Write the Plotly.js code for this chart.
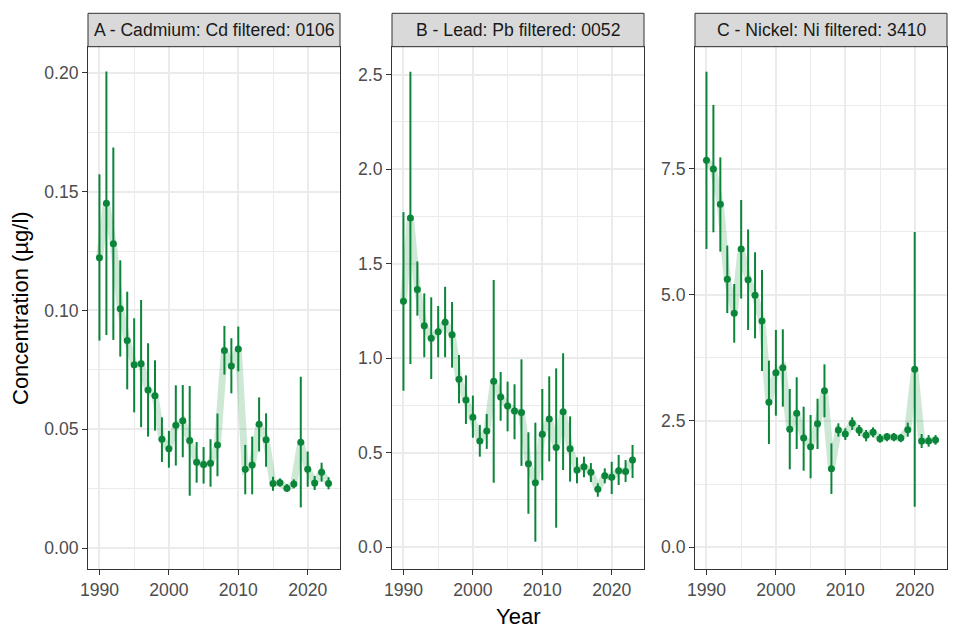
<!DOCTYPE html>
<html>
<head>
<meta charset="utf-8">
<script src="https://cdn.plot.ly/plotly-3.0.1.min.js"></script>
<style>html,body{margin:0;padding:0;background:#fff;}#chart{width:960px;height:640px;}</style>
</head>
<body>
<div id="chart"></div>
<script>
const years = [1990,1991,1992,1993,1994,1995,1996,1997,1998,1999,2000,2001,2002,2003,2004,2005,2006,2007,2008,2009,2010,2011,2012,2013,2014,2015,2016,2017,2018,2019,2020,2021,2022,2023];

const panelTitles = ["A - Cadmium: Cd filtered: 0106", "B - Lead: Pb filtered: 0052", "C - Nickel: Ni filtered: 3410"];

const cdMean  = [0.1222,0.1451,0.1281,0.1007,0.0873,0.0771,0.0776,0.0665,0.0641,0.0458,0.0418,0.0517,0.0536,0.0453,0.0361,0.0351,0.0357,0.0434,0.0831,0.0766,0.0838,0.0331,0.0349,0.0521,0.0456,0.0272,0.0275,0.0251,0.0269,0.0445,0.0331,0.0274,0.0319,0.0271];
const cdUpper = [0.1573,0.2006,0.1686,0.1211,0.1079,0.0967,0.1044,0.0862,0.0790,0.0550,0.0493,0.0685,0.0686,0.0682,0.0446,0.0425,0.0458,0.0566,0.0935,0.0883,0.0932,0.0434,0.0469,0.0634,0.0567,0.0300,0.0293,0.0269,0.0289,0.0721,0.0406,0.0303,0.0359,0.0298];
const cdLower = [0.0873,0.0897,0.0876,0.0806,0.0668,0.0571,0.0509,0.0469,0.0494,0.0362,0.0338,0.0347,0.0382,0.0220,0.0275,0.0271,0.0258,0.0302,0.0730,0.0651,0.0744,0.0226,0.0226,0.0406,0.0342,0.0241,0.0258,0.0236,0.0251,0.0171,0.0258,0.0244,0.0279,0.0247];

const pbMean  = [1.300,1.741,1.363,1.171,1.104,1.139,1.189,1.123,0.887,0.778,0.686,0.561,0.614,0.877,0.794,0.746,0.720,0.711,0.441,0.340,0.596,0.677,0.526,0.716,0.520,0.407,0.425,0.395,0.305,0.377,0.369,0.404,0.400,0.460];
const pbUpper = [1.772,2.515,1.511,1.342,1.321,1.275,1.377,1.296,1.016,0.908,0.801,0.646,0.704,1.413,0.926,0.875,0.861,0.993,0.607,0.658,0.836,0.903,0.945,1.025,0.691,0.474,0.478,0.444,0.337,0.416,0.451,0.487,0.460,0.540];
const pbLower = [0.827,0.968,1.224,1.004,0.889,1.004,1.004,0.949,0.760,0.651,0.578,0.478,0.519,0.340,0.668,0.612,0.570,0.429,0.176,0.028,0.353,0.453,0.102,0.407,0.346,0.337,0.369,0.344,0.266,0.337,0.280,0.328,0.344,0.365];

const niMean  = [7.672,7.50,6.80,5.311,4.637,5.913,5.304,4.994,4.484,2.871,3.459,3.558,2.335,2.653,2.163,1.990,2.447,3.102,1.554,2.321,2.242,2.454,2.315,2.215,2.275,2.149,2.189,2.182,2.163,2.328,3.525,2.103,2.103,2.123];
const niUpper = [9.43,8.77,7.73,5.98,5.218,6.885,6.30,5.847,5.496,3.697,4.306,4.319,3.135,3.367,2.784,2.619,2.943,3.624,2.057,2.454,2.355,2.573,2.421,2.321,2.374,2.242,2.262,2.262,2.24,2.467,6.25,2.242,2.22,2.22];
const niLower = [5.913,6.244,5.86,4.64,4.054,4.93,4.306,4.14,3.492,2.044,2.606,2.784,1.541,1.944,1.514,1.363,1.944,2.573,1.052,2.189,2.123,2.321,2.202,2.097,2.176,2.07,2.097,2.097,2.08,2.189,0.80,1.964,1.99,2.03];

const xTickVals = [1990, 2000, 2010, 2020];
const xTickText = ["1990", "2000", "2010", "2020"];

const GREEN = '#0b853a';
const RIBBON = 'rgba(30,150,70,0.22)';
const FONT = 'Liberation Sans, Arial, sans-serif';

const series = [
  {mean: cdMean, up: cdUpper, lo: cdLower, xa: 'x',  ya: 'y'},
  {mean: pbMean, up: pbUpper, lo: pbLower, xa: 'x2', ya: 'y2'},
  {mean: niMean, up: niUpper, lo: niLower, xa: 'x3', ya: 'y3'}
];

const traces = [];
series.forEach(s => {
  traces.push({
    x: years, y: s.mean, xaxis: s.xa, yaxis: s.ya, type: 'scatter', mode: 'lines',
    line: {color: RIBBON, width: 7}, hoverinfo: 'skip'
  });
  traces.push({
    x: years, y: s.mean, xaxis: s.xa, yaxis: s.ya, type: 'scatter', mode: 'markers',
    marker: {color: GREEN, size: 7},
    error_y: {type: 'data', symmetric: false,
      array: s.up.map((u, i) => u - s.mean[i]),
      arrayminus: s.lo.map((l, i) => s.mean[i] - l),
      color: GREEN, thickness: 2, width: 0}
  });
});

const W = 960, H = 640;
const xDomPx = [[88, 340], [392, 644], [695, 947]];
const yTopPx = 47, yBotPx = 569;
const yDom = [1 - yBotPx / H, 1 - yTopPx / H];

function xAxis(i, anchor) {
  return {
    domain: [xDomPx[i][0] / W, xDomPx[i][1] / W], anchor: anchor,
    range: [1988.35, 2024.65], tickvals: xTickVals, ticktext: xTickText,
    ticks: 'outside', ticklen: 5, tickwidth: 1, tickcolor: '#333333',
    tickfont: {family: FONT, size: 17.6, color: '#4D4D4D'},
    showgrid: true, gridcolor: '#EBEBEB', gridwidth: 2,
    minor: {tickvals: [1995, 2005, 2015], showgrid: true, gridcolor: '#EBEBEB', gridwidth: 1, ticks: ''},
    showline: true, mirror: true, linecolor: '#333333', linewidth: 1,
    zeroline: false, fixedrange: true
  };
}
function yAxis(anchor, range, dtick, fmt) {
  return {
    domain: yDom, anchor: anchor, range: range,
    tick0: 0, dtick: dtick, tickformat: fmt,
    ticks: 'outside', ticklen: 5, tickwidth: 1, tickcolor: '#333333',
    tickfont: {family: FONT, size: 17.6, color: '#4D4D4D'},
    showgrid: true, gridcolor: '#EBEBEB', gridwidth: 2,
    minor: {tick0: 0, dtick: dtick / 2, showgrid: true, gridcolor: '#EBEBEB', gridwidth: 1, ticks: ''},
    showline: true, mirror: true, linecolor: '#333333', linewidth: 1,
    zeroline: false, fixedrange: true
  };
}

const shapes = [];
const annotations = [];
const stripTop = 13.3, stripBot = 46.7;
xDomPx.forEach((d, i) => {
  shapes.push({type: 'rect', xref: 'paper', yref: 'paper',
    x0: d[0] / W, x1: d[1] / W, y0: 1 - stripBot / H, y1: 1 - stripTop / H,
    fillcolor: '#D9D9D9', line: {color: '#333333', width: 1}, layer: 'above'});
  annotations.push({xref: 'paper', yref: 'paper', x: (d[0] + d[1]) / 2 / W, y: 1 - (stripTop + stripBot) / 2 / H,
    text: panelTitles[i], showarrow: false, xanchor: 'center', yanchor: 'middle',
    font: {family: FONT, size: 17.6, color: '#1A1A1A'}});
});
annotations.push({xref: 'paper', yref: 'paper', x: 20 / W, y: 1 - (yTopPx + yBotPx) / 2 / H,
  text: 'Concentration (µg/l)', textangle: -90, showarrow: false, xanchor: 'center', yanchor: 'middle',
  font: {family: FONT, size: 22, color: '#000000'}});
annotations.push({xref: 'paper', yref: 'paper', x: (88 + 947) / 2 / W, y: 1 - 616 / H,
  text: 'Year', showarrow: false, xanchor: 'center', yanchor: 'middle',
  font: {family: FONT, size: 22, color: '#000000'}});

const layout = {
  width: W, height: H, margin: {l: 0, r: 0, t: 0, b: 0},
  paper_bgcolor: '#ffffff', plot_bgcolor: '#ffffff', showlegend: false,
  xaxis: xAxis(0, 'y'), xaxis2: xAxis(1, 'y2'), xaxis3: xAxis(2, 'y3'),
  yaxis: yAxis('x', [-0.00884, 0.2109], 0.05, '.2f'),
  yaxis2: yAxis('x2', [-0.1164, 2.6455], 0.5, '.1f'),
  yaxis3: yAxis('x3', [-0.4365, 9.92], 2.5, '.1f'),
  shapes: shapes, annotations: annotations, hovermode: false
};

Plotly.newPlot('chart', traces, layout, {staticPlot: true, displayModeBar: false});
</script>
</body>
</html>
